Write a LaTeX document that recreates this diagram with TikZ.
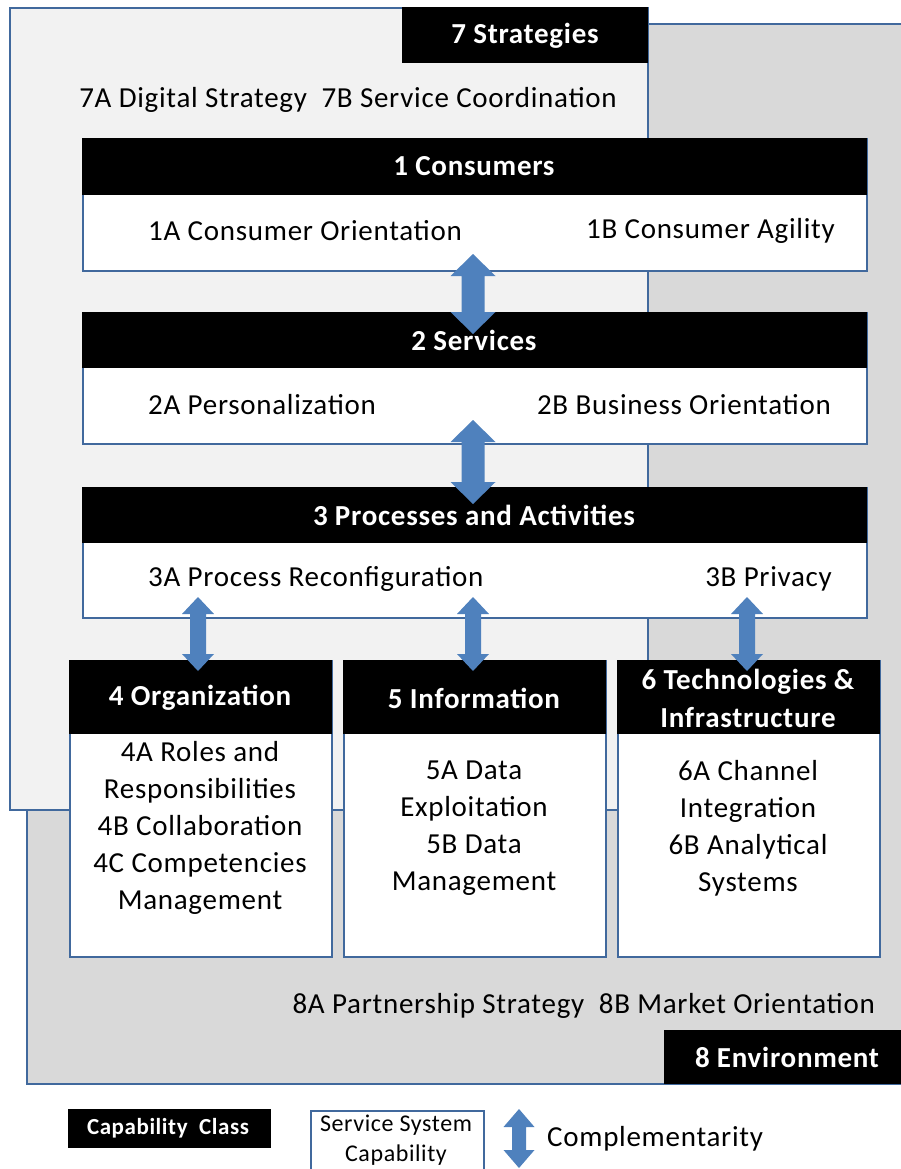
\documentclass[tikz,border=0pt]{standalone}
\usepackage{fontspec}
\setmainfont{Carlito}[LetterSpace=2.5]
\definecolor{framecol}{HTML}{41699D}
\definecolor{arrowcol}{HTML}{4F81BD}
\definecolor{stratfill}{HTML}{F2F2F2}
\definecolor{envfill}{HTML}{D9D9D9}
% two-headed block arrow: x, top tip, bottom tip, head half width, shaft half width, head length
\newcommand\cmparrow[6]{%
  \fill[arrowcol] (#1,#2) -- ({#1+#4},{#2+#6}) -- ({#1+#5},{#2+#6}) -- ({#1+#5},{#3-#6})
    -- ({#1+#4},{#3-#6}) -- (#1,#3) -- ({#1-#4},{#3-#6}) -- ({#1-#5},{#3-#6})
    -- ({#1-#5},{#2+#6}) -- ({#1-#4},{#2+#6}) -- cycle;}
\begin{document}
\begin{tikzpicture}[x=1pt,y=-1pt,
  panel/.style={draw=framecol, line width=1.8pt},
  capbox/.style={draw=framecol, line width=1.8pt, fill=white, anchor=north west, inner sep=0pt},
  classbar/.style={fill=black, anchor=north west, inner sep=0pt},
  hdr/.style={text=white, font=\bfseries\fontsize{29}{38}\selectfont, align=center, inner sep=0pt},
  txt/.style={font=\fontsize{29}{37}\selectfont, align=center, inner sep=0pt},
  small/.style={font=\fontsize{24}{30}\selectfont, align=center, inner sep=0pt}]
\useasboundingbox (0,0) rectangle (901,1169);

% environment and strategy panels
\filldraw[panel, fill=envfill] (27,24) rectangle (910,1084);
\filldraw[panel, fill=stratfill] (10,8) rectangle (648,810);
\fill[black] (402,7) rectangle (648,63);
\node[hdr] (t7) at (525,36) {7 Strategies};
\node[txt] (c7) at (348,100) {7A Digital Strategy\ \ 7B Service Coordination};

% capability classes 1-3
\node[capbox, minimum width=784pt, minimum height=132pt] (b1) at (82,138) {};
\node[classbar, minimum width=785pt, minimum height=57pt] (h1) at (82,138) {};
\node[hdr] (t1) at (474,166) {1 Consumers};
\node[txt, anchor=west] (c1a) at (148,231) {1A Consumer Orientation};
\node[txt, anchor=east] (c1b) at (835,231) {1B Consumer\ Agility};

\node[capbox, minimum width=784pt, minimum height=131pt] (b2) at (82,312) {};
\node[classbar, minimum width=785pt, minimum height=56pt] (h2) at (82,312) {};
\node[hdr] (t2) at (474,340) {2 Services};
\node[txt, anchor=west] (c2a) at (148,405) {2A Personalization};
\node[txt, anchor=east] (c2b) at (831,405) {2B Business Orientation};

\node[capbox, minimum width=784pt, minimum height=130pt] (b3) at (82,487) {};
\node[classbar, minimum width=785pt, minimum height=56pt] (h3) at (82,487) {};
\node[hdr] (t3) at (474,515) {3 Processes and Activities};
\node[txt, anchor=west] (c3a) at (148,579) {3A Process Reconfiguration};
\node[txt, anchor=east] (c3b) at (832,579) {3B Privacy};

% capability classes 4-6
\node[capbox, minimum width=262pt, minimum height=296pt] (b4) at (69,660) {};
\node[classbar, minimum width=263pt, minimum height=74pt] (h4) at (69,660) {};
\node[hdr] (t4) at (200,698) {4 Organization};
\node[txt] (c4) at (200,828) {4A Roles and\\Responsibilities\\4B Collaboration\\4C Competencies\\Management};

\node[capbox, minimum width=262pt, minimum height=296pt] (b5) at (343,660) {};
\node[classbar, minimum width=263pt, minimum height=74pt] (h5) at (343,660) {};
\node[hdr] (t5) at (474,698) {5 Information};
\node[txt] (c5) at (474,828) {5A Data\\Exploitation\\5B Data\\Management};

\node[capbox, minimum width=262pt, minimum height=296pt] (b6) at (617,660) {};
\node[classbar, minimum width=263pt, minimum height=74pt] (h6) at (617,660) {};
\node[hdr] (t6) at (748,698) {6 Technologies \&\\Infrastructure};
\node[txt] (c6) at (748,828) {6A Channel\\Integration\\6B Analytical\\Systems};

% environment labels
\node[txt, anchor=east] (c8) at (875,1006) {8A Partnership Strategy\ \ 8B Market Orientation};
\fill[black] (664,1030) rectangle (905,1084);
\node[hdr] (t8) at (787,1057) {8 Environment};

% complementarity arrows
\cmparrow{473}{254}{334}{22.5}{11.5}{22}
\cmparrow{473}{420}{504}{22.5}{11.5}{22}
\cmparrow{198}{597}{671}{16}{8}{17}
\cmparrow{473}{597}{671}{16}{8}{17}
\cmparrow{747}{597}{671}{16}{8}{17}

% legend
\node[classbar, minimum width=203pt, minimum height=39pt] (lk1) at (68,1109) {};
\node[hdr, font=\bfseries\fontsize{23}{28}\selectfont] (lt1) at (168,1128.5) {Capability\ \ Class};
\node[capbox, minimum width=173pt, minimum height=70pt] (lk2) at (310,1110) {};
\node[small] (lt2) at (396,1140) {Service System\\Capability};
\cmparrow{519}{1109}{1168}{15.5}{7}{18}
\node[txt, anchor=west] (lt3) at (547,1139) {Complementarity};
\end{tikzpicture}
\end{document}
